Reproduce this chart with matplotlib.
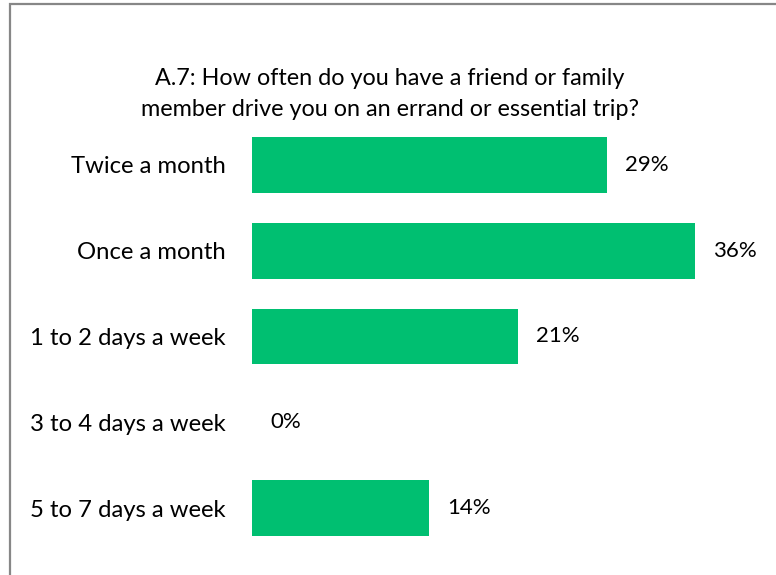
import matplotlib
matplotlib.use("Agg")
import matplotlib.pyplot as plt
from matplotlib.patches import Rectangle

categories = ["Twice a month", "Once a month", "1 to 2 days a week", "3 to 4 days a week", "5 to 7 days a week"]
values = [28.6, 35.7, 21.4, 0.0, 14.3]
title = "A.7: How often do you have a friend or family\nmember drive you on an errand or essential trip?"

plt.rcParams['font.family'] = ['Lato', 'DejaVu Sans']

W, H = 776, 575
fig = plt.figure(figsize=(W / 100, H / 100), dpi=100)

# axes in pixel layout
left, right, top, bottom = 252, 252 + 12.41 * 40, 122, 551
ax = fig.add_axes([left / W, 1 - bottom / H, (right - left) / W, (bottom - top) / H])
ypos = list(range(len(categories)))
ax.barh(ypos, values, height=0.65, color="#00BF71")
ax.set_xlim(0, 40)
ax.set_ylim(len(categories) - 0.5, -0.5)
ax.set_yticks(ypos)
ax.set_yticklabels(categories, fontsize=17.2, color="#000000")
ax.tick_params(axis='y', length=0, pad=19)
ax.set_xticks([])
for s in ax.spines.values():
    s.set_visible(False)
for y, v in zip(ypos, values):
    ax.text(v + 1.45, y, f"{v:.0f}%", va="center", ha="left", fontsize=16, color="#000000")

fig.text(390 / W, 1 - 94 / H, title, ha="center", va="center", fontsize=16.8,
         linespacing=1.62, color="#000000")

fig.patches.append(Rectangle((9.5 / W, -0.1), 1.2, 1 - 3.5 / H + 0.1, transform=fig.transFigure,
                             fill=False, edgecolor="#878787", linewidth=1.6))

fig.savefig("out.png", dpi=100)
